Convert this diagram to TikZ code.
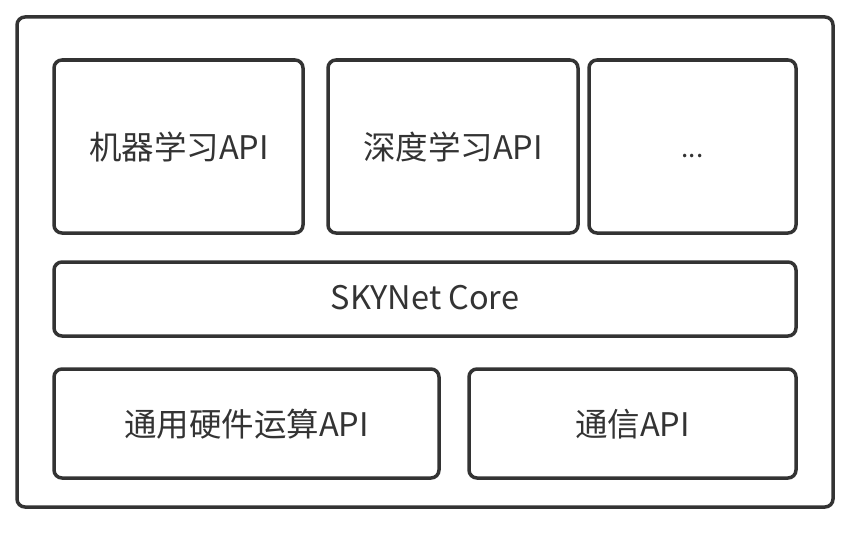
\documentclass[tikz,border=0pt]{standalone}
\usepackage{fontspec}
\setmainfont{Noto Sans CJK SC}
\definecolor{ink}{HTML}{333333}
\begin{document}
\begin{tikzpicture}[x=1pt,y=-1pt,
  box/.style={draw=ink, line width=3.5pt, rounded corners=8pt},
  lbl/.style={font=\fontsize{32.5}{38}\selectfont, text=ink}]
\useasboundingbox (0,0) rectangle (853,535);
\draw[box] (17,17) rectangle (833,507);
\draw[box] (54,60) rectangle (303,233);
\draw[box] (328,60) rectangle (578,233);
\draw[box] (589,60) rectangle (796,233);
\draw[box] (54,262) rectangle (796,336);
\draw[box] (54,369) rectangle (439,478);
\draw[box] (469,369) rectangle (796,478);
\node[lbl] (ml) at (179,147) {机器学习API};
\node[lbl] (dl) at (453,147) {深度学习API};
\node[lbl, font=\fontsize{26}{30}\selectfont] (etc) at (692.5,156) {...};
\node[lbl] (core) at (425,298) {SKYNet Core};
\node[lbl] (hw) at (246.5,424) {通用硬件运算API};
\node[lbl] (comm) at (632.5,424) {通信API};
\end{tikzpicture}
\end{document}
